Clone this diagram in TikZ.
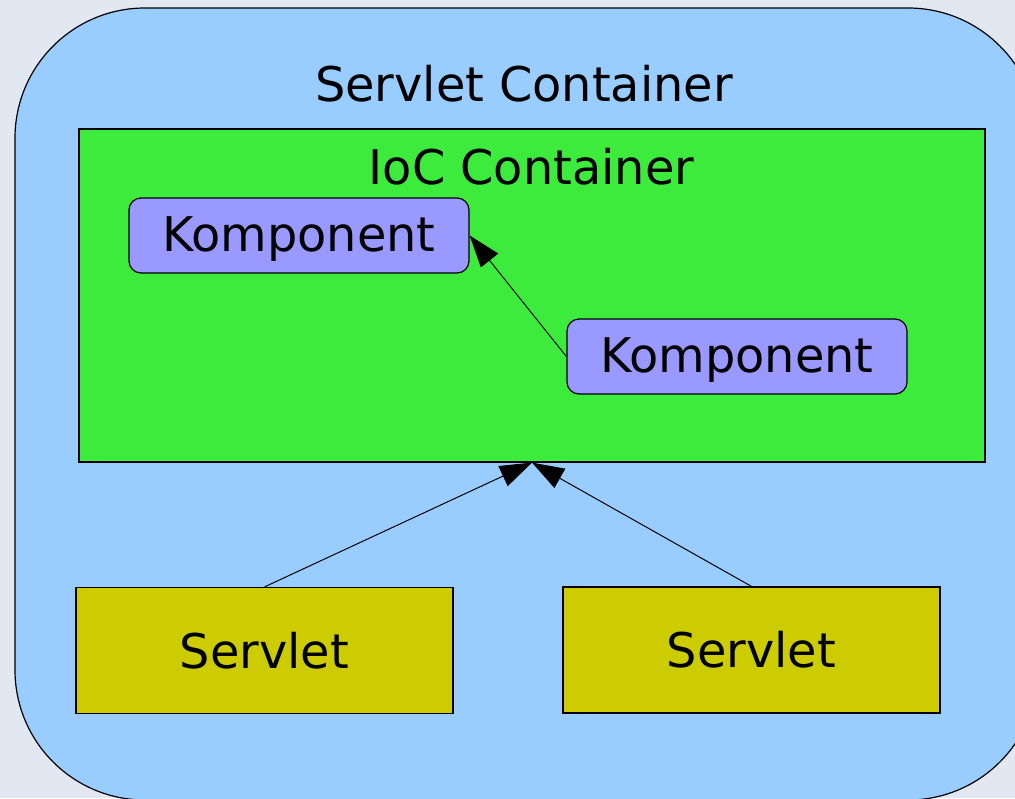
\documentclass[tikz,border=0pt]{standalone}
\usepackage{fontspec}
\setmainfont{DejaVu Sans}
\usepackage{xcolor}
\usetikzlibrary{arrows.meta,positioning}
\definecolor{bgpage}{RGB}{225,232,242}
\definecolor{scblue}{RGB}{153,204,255}
\definecolor{iocgreen}{RGB}{61,235,61}
\definecolor{kompviolet}{RGB}{153,153,255}
\definecolor{srvyellow}{RGB}{204,204,0}

\begin{document}
\begin{tikzpicture}[x=0.5pt,y=-0.5pt,>={Triangle[length=16pt,width=11pt]},
  sc/.style={draw=black,fill=scblue,rounded corners=65pt,minimum width=511.5pt,minimum height=396pt,inner sep=0pt,line width=0.6pt},
  ioc/.style={draw=black,fill=iocgreen,minimum width=453pt,minimum height=166.5pt,inner sep=0pt,line width=0.6pt},
  komp/.style={draw=black,fill=kompviolet,rounded corners=6pt,minimum width=170pt,minimum height=37.5pt,inner sep=0pt,line width=0.6pt,text height=19.4pt,text depth=3.6pt,font=\fontsize{23.9}{28}\selectfont},
  srv/.style={draw=black,fill=srvyellow,minimum width=188.5pt,minimum height=63pt,inner sep=0pt,line width=0.6pt,font=\fontsize{23.9}{28}\selectfont},
  ttl/.style={inner sep=0pt,anchor=base,font=\fontsize{23.9}{28}\selectfont},
  ar/.style={->,line width=0.5pt}]
\useasboundingbox (0,0) rectangle (1015,798);
\fill[bgpage] (0,0) rectangle (1015,798);
\clip (0,0) rectangle (1015,798);
% containers
\node[sc] (sc) at (526.5,404) {};
\node[ttl] (sctitle) at (524,101) {Servlet Container};
\node[ioc] (ioc) at (532,295.5) {};
\node[ttl] (ioctitle) at (531.5,184) {IoC Container};
% components
\node[komp] (k1) at (299,235.5) {Komponent};
\node[komp] (k2) at (737,356.5) {Komponent};
\node[srv] (s1) at (264.5,650.5) {Servlet};
\node[srv] (s2) at (751.5,650) {Servlet};
\draw[ar] (k2.west) -- (k1.east);
\draw[ar] (s1.north) -- (ioc.south);
\draw[ar] (s2.north) -- (ioc.south);
\end{tikzpicture}
\end{document}
